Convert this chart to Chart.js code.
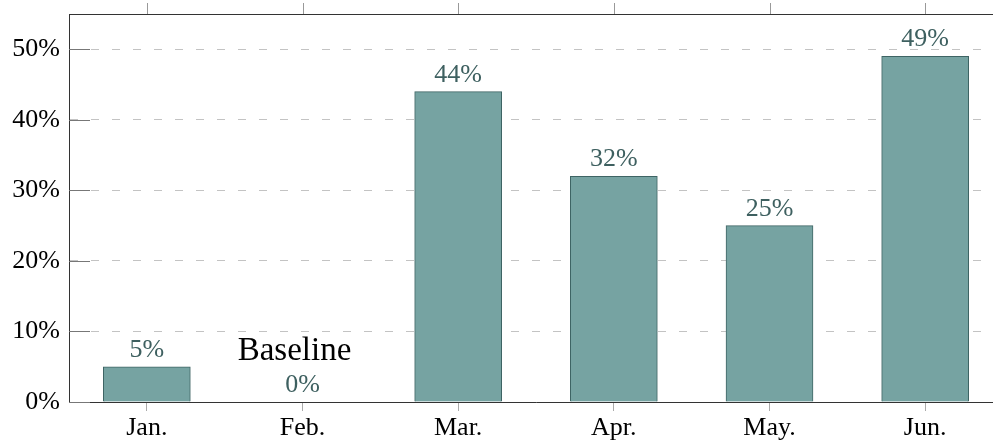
<!DOCTYPE html>
<html>
<head>
<meta charset="utf-8">
<script src="https://cdn.jsdelivr.net/npm/chart.js@4"></script>
<style>
  html, body { margin: 0; padding: 0; overflow: hidden; background: #fff; }
  #wrap { width: 993px; height: 446px; overflow: hidden; }
</style>
</head>
<body>
<div id="wrap"><canvas id="myChart" width="1003" height="446"></canvas></div>
<script>
// data
const months = ['Jan.', 'Feb.', 'Mar.', 'Apr.', 'May.', 'Jun.'];
const shares = [5, 0, 44, 32, 25, 49];
const yTicks = [0, 10, 20, 30, 40, 50];
const note = 'Baseline';
const noteIndex = 1;

const serif = "'Liberation Serif', 'Times New Roman', serif";
const barFill = 'rgb(118, 163, 162)';
const barEdge = 'rgb(62, 100, 100)';
const labelColor = 'rgb(62, 96, 96)';

// value labels, note text, top frame and inner tick marks
const extras = {
    id: 'extras',
    afterDatasetsDraw(chart) {
        const c = chart.ctx;
        const meta = chart.getDatasetMeta(0);
        c.save();
        c.font = '26px ' + serif;
        c.fillStyle = labelColor;
        c.textAlign = 'center';
        c.textBaseline = 'alphabetic';
        meta.data.forEach((bar, i) => {
            c.fillText(shares[i] + '%', bar.x, bar.y - 10);
        });
        // note above the zero bar
        const xs = chart.scales.x, ys = chart.scales.y;
        c.font = '33px ' + serif;
        c.fillStyle = '#000';
        c.fillText(note, xs.getPixelForValue(noteIndex) - 8, ys.getPixelForValue(shares[noteIndex]) - 42);
        c.restore();
    },
    afterDraw(chart) {
        const c = chart.ctx;
        const a = chart.chartArea;
        const xs = chart.scales.x, ys = chart.scales.y;
        c.save();
        // top frame
        c.strokeStyle = '#333';
        c.lineWidth = 1;
        c.beginPath();
        c.moveTo(a.left, a.top + 0.5);
        c.lineTo(a.right, a.top + 0.5);
        c.stroke();
        // ticks on top edge
        c.strokeStyle = '#999';
        c.beginPath();
        xs.ticks.forEach((t, i) => {
            const px = Math.round(xs.getPixelForTick(i)) + 0.5;
            c.moveTo(px, a.top);
            c.lineTo(px, a.top - 11);
        });
        c.stroke();
        // y ticks inside
        c.strokeStyle = '#777';
        c.beginPath();
        ys.ticks.forEach((t) => {
            const py = Math.round(ys.getPixelForValue(t.value)) + 0.5;
            c.moveTo(a.left, py);
            c.lineTo(a.left + 21, py);
        });
        c.stroke();
        c.restore();
    }
};

const ctx = document.getElementById('myChart').getContext('2d');

const data = {
    labels: months,
    datasets: [{
        data: shares,
        backgroundColor: barFill,
        borderColor: barEdge,
        borderWidth: 1,
        barThickness: 87
    }]
};

const config = {
    type: 'bar',
    data: data,
    options: {
        responsive: false,
        animation: false,
        layout: { padding: { top: 14, left: 0, right: 0, bottom: 0 } },
        plugins: {
            legend: { display: false },
            tooltip: { enabled: false }
        },
        scales: {
            x: {
                offset: true,
                grid: {
                    display: true,
                    drawOnChartArea: false,
                    drawTicks: true,
                    tickLength: 9,
                    offset: false,
                    color: '#aaa',
                    tickColor: '#aaa'
                },
                border: { display: true, color: '#333', width: 1 },
                ticks: {
                    color: '#000',
                    padding: 2,
                    maxRotation: 0,
                    font: { family: serif, size: 26 }
                },
                afterFit(scale) {
                    scale.height = 44;
                    scale.paddingLeft = 0;
                    scale.paddingRight = 0;
                }
            },
            y: {
                min: 0,
                max: 55,
                grid: {
                    color: 'rgb(195, 195, 195)',
                    drawTicks: false
                },
                border: { display: true, color: '#333', width: 1, dash: [8, 13] },
                ticks: {
                    stepSize: 10,
                    color: '#000',
                    padding: 9,
                    font: { family: serif, size: 26 },
                    callback: (v) => v + '%'
                },
                afterBuildTicks(scale) {
                    scale.ticks = yTicks.map(v => ({ value: v }));
                },
                afterFit(scale) {
                    scale.width = 69;
                    scale.paddingTop = 0;
                    scale.paddingBottom = 0;
                }
            }
        }
    },
    plugins: [extras]
};

const myChart = new Chart(ctx, config);
</script>
</body>
</html>
